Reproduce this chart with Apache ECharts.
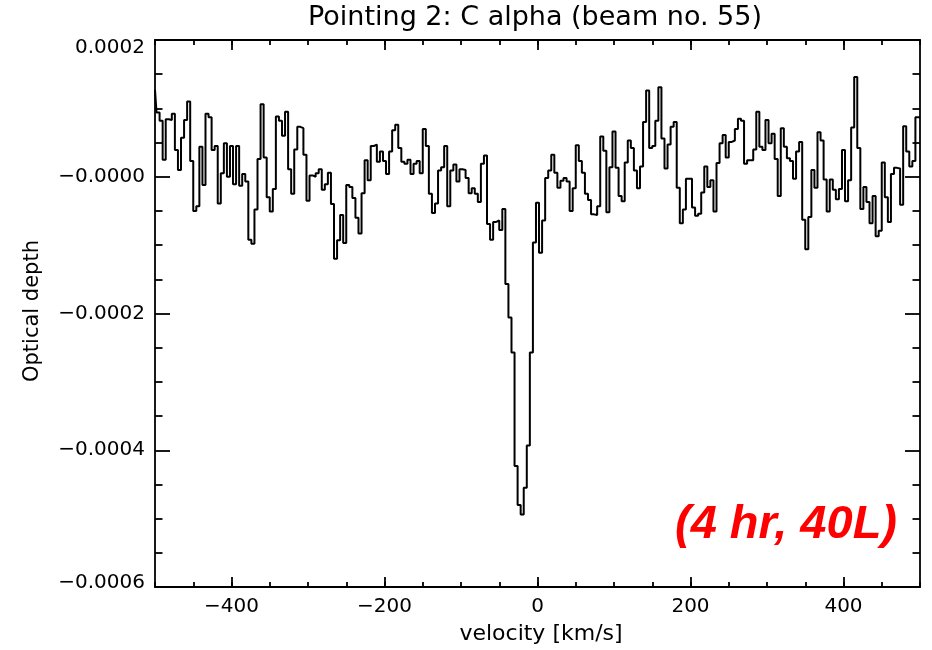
<!DOCTYPE html>
<html>
<head>
<meta charset="utf-8">
<script src="https://cdn.jsdelivr.net/npm/echarts@6/dist/echarts.min.js"></script>
<style>
  html, body { margin: 0; padding: 0; background: #fff; }
  #chart { width: 932px; height: 650px; }
</style>
</head>
<body>
<div id="chart"></div>
<script>
// Channel grid of the spectrum (km/s)
const velStart = -500;
const velStep = 4;

// Optical depth per channel (channels from -500 to +500 km/s)
const tau = [
  127e-6, 94e-6, 82e-6, 25e-6, 84e-6, 83e-6, 92e-6, 39e-6, 10e-6, 57e-6,
  83e-6, 110e-6, 23e-6, -50e-6, -43e-6, 44e-6, -12e-6, 92e-6, 87e-6, 39e-6,
  45e-6, -39e-6, 5e-6, 49e-6, 0, 45e-6, -11e-6, 45e-6, -13e-6, 4e-6,
  -7e-6, -92e-6, -98e-6, -48e-6, 26e-6, 106e-6, 28e-6, -30e-6, -51e-6, -18e-6,
  88e-6, 82e-6, 60e-6, 95e-6, 11e-6, -25e-6, 40e-6, 73e-6, 71e-6, 32e-6,
  -35e-6, 2e-6, 0, 5e-6, 11e-6, -19e-6, -11e-6, 6e-6, -40e-6, -120e-6,
  -93e-6, -56e-6, -97e-6, -12e-6, -15e-6,
  -31e-6, -60e-6, -83e-6, -24e-6, 24e-6, -5e-6, 45e-6, 47e-6, 22e-6, 37e-6,
  23e-6, 4e-6, 37e-6, 68e-6, 76e-6, 42e-6, 22e-6, 19e-6, 25e-6, 4e-6,
  19e-6, 23e-6, 5e-6, 70e-6, 45e-6, -25e-6, -53e-6, -39e-6, 9e-6, 14e-6,
  45e-6, -43e-6, 9e-6, 18e-6, -7e-6, 11e-6, 10e-6, -2e-6, -24e-6, -17e-6,
  -25e-6, -37e-6, 19e-6, 31e-6, -69e-6, -92e-6, -66e-6, -64e-6, -78e-6, -47e-6,
  -157e-6, -206e-6, -257e-6, -423e-6, -480e-6, -494e-6, -455e-6, -393e-6, -257e-6, -96e-6,
  -38e-6, -111e-6, -64e-6,
  -2e-6, 9e-6, 32e-6, 6e-6, -16e-6, -6e-6, -2e-6, -7e-6, -50e-6, -17e-6,
  46e-6, 23e-6, 6e-6, -25e-6, -34e-6, -55e-6, -56e-6, -43e-6, 59e-6, 38e-6,
  -52e-6, 14e-6, 66e-6, 13e-6, -28e-6, -36e-6, 21e-6, 53e-6, 42e-6, 9e-6,
  -17e-6, 15e-6, 80e-6, 126e-6, 42e-6, 45e-6, 82e-6, 131e-6, 56e-6, 12e-6,
  47e-6, 73e-6, 80e-6, -16e-6, -68e-6, -48e-6, -3e-6, -3e-6, -45e-6, -57e-6,
  -54e-6, -23e-6, 15e-6, -15e-6, -5e-6, -51e-6, 20e-6, 49e-6, 61e-6, 28e-6,
  51e-6,
  53e-6, 70e-6, 85e-6, 82e-6, 19e-6, 24e-6, 24e-6, 40e-6, 95e-6, 44e-6,
  39e-6, 83e-6, 49e-6, 63e-6, 26e-6, -28e-6, 71e-6, 44e-6, 27e-6, 23e-6,
  -3e-6, 37e-6, 51e-6, -63e-6, -106e-6, -59e-6, 10e-6, -16e-6, 65e-6, 53e-6,
  -4e-6, -51e-6, -4e-6, -19e-6, -33e-6, -18e-6, 39e-6, -36e-6, -5e-6, 72e-6,
  146e-6, 42e-6, -47e-6, -15e-6, -37e-6, -68e-6, -28e-6, -87e-6, -79e-6, 21e-6,
  -30e-6, -66e-6, 4e-6, 13e-6, 12e-6, -41e-6, 74e-6, 37e-6, 15e-6, 23e-6,
  87e-6, 87e-6
];

// Tick labels
const xMajorTicks = [-400, -200, 0, 200, 400];
const yTickValues = [0.0002, 0, -0.0002, -0.0004, -0.0006];

const titleText = 'Pointing 2: C alpha (beam no. 55)';
const xName = 'velocity [km/s]';
const yName = 'Optical depth';
const noteText = '(4 hr, 40L)';

const points = tau.map((t, i) => [velStart + i * velStep, t]);

const FONT = 'DejaVu Sans';
const MINUS = '\u2212';
const LBL = 20;
const fmtX = v => (v < 0 ? MINUS + Math.abs(v) : String(v));
const fmtY = v => {
  const s = Math.abs(v).toFixed(4);
  const txt = v > 1e-10 ? s : MINUS + s;
  if (Math.abs(v - 0.0002) < 1e-9) return '{top|' + txt + '}';
  if (Math.abs(v + 0.0006) < 1e-9) return '{bot|' + txt + '}';
  return txt;
};

const lineStyle = { color: '#000', width: 1.8 };

function xAxisDef(pos, major, labels) {
  return {
    type: 'value', gridIndex: 0, position: pos, min: -500, max: 500, interval: 50,
    axisLine: { show: !major, onZero: false, lineStyle },
    axisTick: major
      ? { show: true, inside: true, length: 10, customValues: xMajorTicks, lineStyle }
      : { show: true, inside: true, length: 5, lineStyle },
    axisLabel: labels
      ? { show: true, margin: 10, fontFamily: FONT, fontSize: LBL, color: '#000',
          customValues: xMajorTicks, formatter: fmtX }
      : { show: false },
    splitLine: { show: false }
  };
}

function yAxisDef(pos, labels) {
  return {
    type: 'value', gridIndex: 0, position: pos, min: -0.0006, max: 0.0002, interval: 0.0002,
    axisLine: { show: true, onZero: false, lineStyle },
    axisTick: { show: true, inside: true, length: 15, lineStyle },
    minorTick: { show: true, splitNumber: 4, length: 7.5, lineStyle },
    axisLabel: labels
      ? { show: true, margin: 10, fontFamily: FONT, fontSize: LBL, color: '#000',
          formatter: fmtY,
          rich: {
            top: { fontFamily: FONT, fontSize: LBL, color: '#000', padding: [16, 0, 0, 0] },
            bot: { fontFamily: FONT, fontSize: LBL, color: '#000', padding: [0, 0, 8, 0] }
          } }
      : { show: false },
    splitLine: { show: false },
    minorSplitLine: { show: false }
  };
}

const chart = echarts.init(document.getElementById('chart'), null, { renderer: 'canvas' });
chart.setOption({
  backgroundColor: '#fff',
  animation: false,
  grid: { left: 155, right: 12, top: 40, bottom: 63, containLabel: false },
  xAxis: [
    xAxisDef('bottom', false, true),
    xAxisDef('bottom', true, false),
    xAxisDef('top', false, false),
    xAxisDef('top', true, false)
  ],
  yAxis: [
    yAxisDef('left', true),
    yAxisDef('right', false)
  ],
  series: [{
    type: 'line',
    xAxisIndex: 0,
    yAxisIndex: 0,
    step: 'middle',
    data: points,
    showSymbol: false,
    symbol: 'none',
    lineStyle: { color: '#000', width: 2 },
    clip: true
  }],
  graphic: [
    { type: 'text', x: 535, y: 18,
      style: { text: titleText, font: '27px "DejaVu Sans"', fill: '#000', textAlign: 'center', textVerticalAlign: 'middle' } },
    { type: 'text', x: 541, y: 634,
      style: { text: xName, font: '22px "DejaVu Sans"', fill: '#000', textAlign: 'center', textVerticalAlign: 'middle' } },
    { type: 'text', x: 33, y: 311, rotation: Math.PI / 2,
      style: { text: yName, font: '21px "DejaVu Sans"', fill: '#000', textAlign: 'center', textVerticalAlign: 'middle' } },
    { type: 'text', x: 786, y: 525,
      style: { text: noteText, font: 'italic bold 47px "Liberation Sans", Arial, sans-serif', fill: '#ff0000', textAlign: 'center', textVerticalAlign: 'middle' } }
  ]
});
</script>
</body>
</html>
